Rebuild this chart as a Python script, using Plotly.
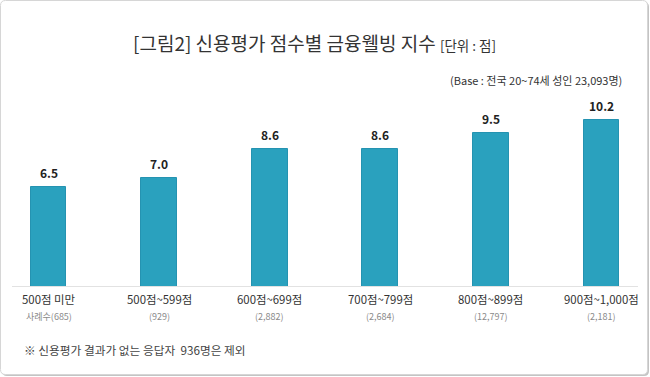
import plotly.graph_objects as go

categories = ["500점 미만", "500점~599점", "600점~699점", "700점~799점", "800점~899점", "900점~1,000점"]
sample_labels = ["사례수(685)", "(929)", "(2,882)", "(2,684)", "(12,797)", "(2,181)"]
values = [6.5, 7.0, 8.6, 8.6, 9.5, 10.2]

title_text = "[그림2] 신용평가 점수별 금융웰빙 지수"
unit_text = "[단위 : 점]"
base_text = "(Base : 전국 20~74세 성인 23,093명)"
footnote_text = "※ 신용평가 결과가 없는 응답자  936명은 제외"

W, H = 650, 377
FONT = "Noto Sans CJK KR"
BAR = "#2aa1be"
BAR_EDGE = "#2593b1"

def px(x):
    return x / W

def py(y):
    return 1 - y / H

def rrect(x0, y0, x1, y1, r):
    X0, X1 = px(x0), px(x1)
    Y0, Y1 = py(y0), py(y1)
    rx, ry = r / W, r / H
    return (f"M {X0+rx},{Y0} L {X1-rx},{Y0} Q {X1},{Y0} {X1},{Y0-ry} "
            f"L {X1},{Y1+ry} Q {X1},{Y1} {X1-rx},{Y1} L {X0+rx},{Y1} "
            f"Q {X0},{Y1} {X0},{Y1+ry} L {X0},{Y0-ry} Q {X0},{Y0} {X0+rx},{Y0} Z")

xs = list(range(len(categories)))

fig = go.Figure()
fig.add_trace(go.Bar(
    x=xs, y=values, width=0.325,
    marker=dict(color=BAR, line=dict(color=BAR_EDGE, width=1)),
    hoverinfo="skip",
))

ann = []
ann.append(dict(
    text=f"{title_text} <span style='font-size:13.5px'>{unit_text}</span>",
    x=px(314), y=py(42), xref="paper", yref="paper", xanchor="center", yanchor="middle",
    showarrow=False, font=dict(family=FONT, size=19, color="#333333"),
))
ann.append(dict(
    text=base_text, x=px(624), y=py(80), xref="paper", yref="paper",
    xanchor="right", yanchor="middle", showarrow=False,
    font=dict(family=FONT, size=11, color="#333333"),
))
ann.append(dict(
    text=footnote_text, x=px(22), y=py(349), xref="paper", yref="paper",
    xanchor="left", yanchor="middle", showarrow=False,
    font=dict(family=FONT, size=11.7, color="#444444"),
))
for i, (c, s, v) in enumerate(zip(categories, sample_labels, values)):
    ann.append(dict(
        text=f"{v:.1f}", x=i, y=v, xref="x", yref="y", xanchor="center", yanchor="bottom",
        yshift=4, showarrow=False,
        font=dict(family=FONT, size=12, color="#222222", weight="bold"),
    ))
    ann.append(dict(
        text=c, x=i, y=py(299), xref="x", yref="paper", xanchor="center", yanchor="middle",
        showarrow=False, font=dict(family=FONT, size=11.4, color="#333333"),
    ))
    ann.append(dict(
        text=s, x=i, y=py(316), xref="x", yref="paper", xanchor="center", yanchor="middle",
        showarrow=False, font=dict(family=FONT, size=9, color="#8a8a8a"),
    ))

shapes = [
    dict(type="path", path=rrect(2, 2, 649, 376, 5), xref="paper", yref="paper",
         fillcolor="#c4c4c4", line=dict(width=0), layer="below"),
    dict(type="path", path=rrect(0.5, 0.5, 647.5, 374.5, 5), xref="paper", yref="paper",
         fillcolor="#ffffff", line=dict(color="#d6d6d6", width=1), layer="below"),
]

fig.update_layout(
    width=W, height=H, margin=dict(l=0, r=0, t=0, b=0),
    paper_bgcolor="#ffffff", plot_bgcolor="rgba(0,0,0,0)",
    showlegend=False, annotations=ann, shapes=shapes, bargap=0,
    xaxis=dict(domain=[px(12), px(638)], range=[-0.33, 5.33], showgrid=False, zeroline=False,
               showline=True, linecolor="#e2e2e2", linewidth=1, showticklabels=False, ticks="",
               fixedrange=True),
    yaxis=dict(domain=[91 / H, (H - 60) / H], range=[1, 1 + 226 / 18.04], showgrid=False,
               zeroline=False, showline=False, showticklabels=False, ticks="", fixedrange=True),
)

fig.write_html("out.html", config={"displayModeBar": False},
               post_script="document.body.style.margin='0';document.body.style.overflow='hidden';")
